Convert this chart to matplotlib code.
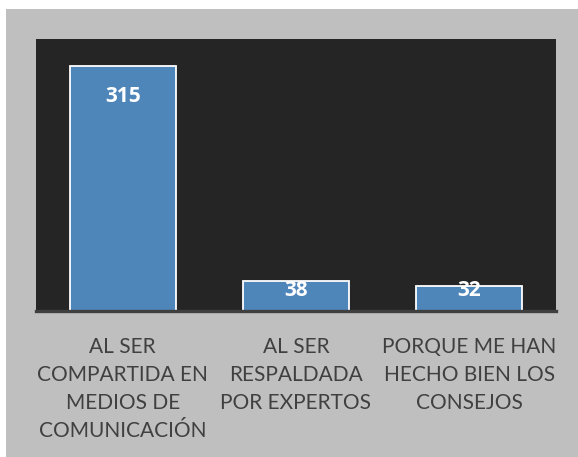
import matplotlib
matplotlib.use("Agg")
import matplotlib.pyplot as plt
from matplotlib.patches import Rectangle

categories = ["AL SER\nCOMPARTIDA EN\nMEDIOS DE\nCOMUNICACIÓN",
              "AL SER\nRESPALDADA\nPOR EXPERTOS",
              "PORQUE ME HAN\nHECHO BIEN LOS\nCONSEJOS"]
values = [315, 38, 32]

W, H = 578, 457
fig = plt.figure(figsize=(W / 100, H / 100), dpi=100)
fig.patch.set_facecolor("white")
# grey chart area, leaves a thin white strip left and top
fig.patches.append(Rectangle((6 / W, 0), 1 - 6 / W, (H - 9) / H,
                             transform=fig.transFigure, facecolor="#bfbfbf",
                             edgecolor="none", zorder=-10))

ax = fig.add_axes([36 / W, (H - 311) / H, 520 / W, (311 - 39) / H])
ax.set_facecolor("#252525")

x = range(len(values))
ax.bar(x, values, width=0.61, color="#4f86ba", edgecolor="white", linewidth=1.3, zorder=2)

for i, v in enumerate(values):
    ax.text(i, max(v - 39, 26.5), str(v), ha="center", va="center", color="white",
            fontsize=15, fontweight="bold", family="Open Sans", zorder=3)

ax.set_xlim(-0.5, 2.5)
ax.set_ylim(0, 350)
ax.set_yticks([])
ax.set_xticks(list(x))
ax.set_xticklabels(categories, fontsize=15, color="#404040", family="Lato", linespacing=1.5)
ax.tick_params(axis="x", length=0, pad=19)
for s in ["top", "left", "right"]:
    ax.spines[s].set_visible(False)
ax.spines["bottom"].set_color("#3f3f3f")
ax.spines["bottom"].set_linewidth(2.4)
ax.spines["bottom"].set_zorder(4)

fig.savefig("out.png", dpi=100, facecolor=fig.get_facecolor())
